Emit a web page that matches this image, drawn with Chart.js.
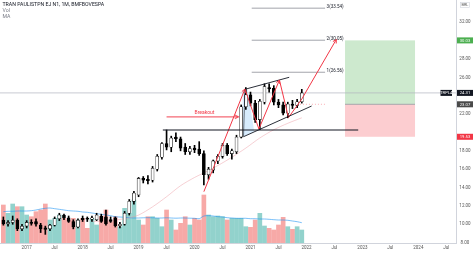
<!DOCTYPE html>
<html>
<head>
<meta charset="utf-8">
<script src="https://cdn.jsdelivr.net/npm/chart.js@4.4.1/dist/chart.umd.min.js"></script>
<style>
  html, body { margin: 0; padding: 0; background: #fff; }
  canvas { display: block; }
</style>
</head>
<body>
<canvas id="chart" width="474" height="253"></canvas>
<script>
// TRPL4 monthly candles, Aug 2016 .. Dec 2021
const months = [
  '2016-08', '2016-09', '2016-10', '2016-11', '2016-12',
  '2017-01', '2017-02', '2017-03', '2017-04', '2017-05', '2017-06', '2017-07', '2017-08', '2017-09', '2017-10', '2017-11', '2017-12',
  '2018-01', '2018-02', '2018-03', '2018-04', '2018-05', '2018-06', '2018-07', '2018-08', '2018-09', '2018-10', '2018-11', '2018-12',
  '2019-01', '2019-02', '2019-03', '2019-04', '2019-05', '2019-06', '2019-07', '2019-08', '2019-09', '2019-10', '2019-11', '2019-12',
  '2020-01', '2020-02', '2020-03', '2020-04', '2020-05', '2020-06', '2020-07', '2020-08', '2020-09', '2020-10', '2020-11', '2020-12',
  '2021-01', '2021-02', '2021-03', '2021-04', '2021-05', '2021-06', '2021-07', '2021-08', '2021-09', '2021-10', '2021-11', '2021-12'
];
const opens = [
  10.45, 10.05, 10.2, 10.45, 9.5,
  9.8, 10.2, 10.3, 9.9, 9.6, 9.5, 9.9, 10.6, 11.0, 10.7, 10.3, 9.7,
  10.65, 10.6, 10.55, 10.5, 10.9, 10.8, 10.5, 10.7, 9.85, 10.0, 11.2, 12.5,
  13.2, 15.0, 14.9, 14.8, 16.0, 17.3, 18.8, 18.4, 19.5, 19.3, 18.4, 17.9,
  18.3, 18.2, 17.7, 15.4, 15.9, 16.9, 17.4, 18.6, 17.7, 17.9, 19.5, 22.8,
  24.1, 23.2, 21.4, 23.3, 24.9, 24.8, 23.3, 23.0, 22.1, 23.1, 22.95, 23.35
];
const highs = [
  10.8, 10.4, 10.9, 10.6, 10.0,
  10.4, 10.5, 10.6, 10.1, 9.8, 10.0, 10.8, 11.2, 11.1, 10.9, 10.5, 10.6,
  10.9, 10.8, 10.9, 11.2, 11.1, 11.55, 10.8, 10.8, 10.2, 11.4, 12.7, 13.6,
  15.1, 15.2, 15.3, 16.3, 17.6, 18.9, 20.27, 19.6, 19.95, 19.5, 18.8, 18.5,
  18.6, 19.0, 18.0, 16.2, 17.0, 17.6, 18.8, 18.8, 18.2, 19.7, 23.0, 24.9,
  24.4, 23.5, 23.6, 25.3, 25.3, 25.1, 23.6, 23.3, 23.3, 23.5, 23.6, 24.7
];
const lows = [
  9.9, 9.8, 10.0, 9.3, 9.3,
  9.6, 9.9, 9.8, 9.1, 8.9, 9.3, 9.8, 10.4, 10.5, 10.2, 9.5, 9.6,
  10.3, 10.3, 10.3, 10.4, 10.2, 9.9, 10.2, 9.7, 9.6, 9.9, 11.0, 12.2,
  13.0, 14.5, 14.4, 14.6, 15.8, 17.1, 18.1, 17.9, 19.0, 18.0, 17.6, 17.6,
  17.8, 17.5, 14.3, 14.9, 15.6, 16.6, 17.2, 17.5, 17.1, 17.7, 19.4, 22.5,
  22.9, 21.1, 20.3, 23.1, 24.4, 23.0, 22.7, 21.9, 21.6, 22.6, 22.7, 23.2
];
const closes = [
  10.05, 10.2, 10.45, 9.5, 9.8,
  10.2, 10.1, 10.0, 9.5, 9.45, 9.9, 10.6, 11.0, 10.7, 10.3, 9.7, 10.45,
  10.5, 10.55, 10.7, 11.0, 10.3, 10.05, 10.3, 9.85, 10.0, 11.2, 12.5, 13.4,
  15.0, 14.8, 14.75, 16.1, 17.4, 18.8, 18.4, 19.4, 19.3, 18.3, 17.9, 18.25,
  18.1, 17.7, 15.4, 16.0, 16.9, 17.4, 18.6, 17.7, 18.0, 19.5, 22.8, 24.1,
  23.2, 21.4, 23.4, 25.0, 24.75, 23.3, 23.0, 22.1, 23.1, 22.95, 23.35, 24.31
];
// volume in millions, and its moving average
const volumes = [
  3.8, 2.97, 3.9, 3.63, 3.63,
  2.8, 2.63, 3.13, 3.3, 3.9, 2.3, 2.47, 2.8, 2.47, 2.3, 2.47, 2.3,
  2.47, 1.47, 2.47, 1.8, 2.63, 3.3, 2.13, 2.63, 1.63, 3.47, 2.97, 4.3,
  2.3, 1.8, 2.63, 2.63, 2.47, 1.63, 3.3, 2.3, 1.3, 1.97, 2.63, 1.8,
  2.47, 2.3, 4.8, 2.8, 2.63, 2.7, 2.63, 2.3, 2.47, 2.47, 2.47, 1.63,
  1.57, 2.3, 2.97, 1.7, 1.47, 1.3, 1.8, 2.57, 1.63, 1.37, 1.63, 1.3
];
const volumeMA = [
  3.13, 3.17, 3.17, 3.2, 3.2,
  3.2, 3.23, 3.3, 3.4, 3.47, 3.5, 3.43, 3.37, 3.3, 3.23, 3.2, 3.17,
  3.1, 3.07, 3.0, 2.93, 2.87, 2.8, 2.73, 2.63, 2.6, 2.57, 2.53, 2.5,
  2.5, 2.52, 2.53, 2.52, 2.5, 2.5, 2.52, 2.5, 2.48, 2.5, 2.5, 2.48,
  2.47, 2.43, 2.7, 2.73, 2.7, 2.63, 2.6, 2.53, 2.5, 2.47, 2.47, 2.47,
  2.43, 2.43, 2.4, 2.4, 2.37, 2.33, 2.3, 2.3, 2.27, 2.2, 2.13, 2.03
];
// faint price MA (month, price)
const priceMA = [
  ['2018-03', 10.3], ['2018-07', 10.4], ['2018-11', 10.7], ['2019-01', 11.0], ['2019-04', 11.9],
  ['2019-07', 13.0], ['2019-10', 14.2], ['2020-01', 15.1], ['2020-03', 15.6], ['2020-06', 16.4],
  ['2020-09', 17.3], ['2020-12', 18.3], ['2021-03', 19.4], ['2021-06', 20.3], ['2021-09', 21.0], ['2021-12', 21.6]
];

const xTickMonths = ['2017-01', '2017-07', '2018-01', '2018-07', '2019-01', '2019-07', '2020-01', '2020-07',
  '2021-01', '2021-07', '2022-01', '2022-07', '2023-01', '2023-07', '2024-01', '2024-07'];
const yTicks = [8, 10, 12, 14, 16, 18, 22, 26, 28, 32];

// drawings: x in months since Jan 2017, y in BRL
const zigzag = [[38.0, 13.55], [46.8, 24.73], [49.8, 20.38], [54.2, 25.71], [56.15, 21.63], [59.0, 23.64], [66.4, 30.13]];
const zigzagHeads = [1, 3, 6];
const breakoutLine = [[30.0, 21.7], [45.4, 21.7]];
const resistance = [[29.2, 20.27], [71.1, 20.27]];
const channelTop = [[46.8, 24.7], [56.3, 26.01]];
const channelBottom = [[46.5, 19.54], [61.1, 22.88]];
const channelSide = [[46.5, 19.54], [46.8, 24.7]];
const flagFill = [[46.3, 24.6], [47.4, 24.6], [48.8, 20.1], [46.4, 19.56]];
const fibLevels = [['1', 26.56], ['2', 30.05], ['3', 33.54]];
const fibSpan = [48.26, 64.0];
const entryDots = [[58.6, 23.07], [64.0, 23.07]];
const position = { from: 68.27, to: 83.28, target: 30.03, entry: 23.07, stop: 19.53 };
const lastPrice = 24.31;

const monthIndex = (s) => (Number(s.slice(0, 4)) - 2017) * 12 + Number(s.slice(5, 7)) - 1;
const xs = months.map(monthIndex);
const pts = (arr) => arr.map(([x, y]) => ({ x, y }));
const FONT = 'Roboto';

function line(points, color, width, dash) {
  return {
    type: 'line', data: pts(points), borderColor: color, borderWidth: width,
    borderDash: dash || [], pointRadius: 0, fill: false, tension: 0, order: 1
  };
}

function arrowHead(ctx, x1, y1, x2, y2, len) {
  const a = Math.atan2(y2 - y1, x2 - x1);
  ctx.beginPath();
  ctx.moveTo(x2 - len * Math.cos(a - 0.5), y2 - len * Math.sin(a - 0.5));
  ctx.lineTo(x2, y2);
  ctx.lineTo(x2 - len * Math.cos(a + 0.5), y2 - len * Math.sin(a + 0.5));
  ctx.stroke();
}

function tag(ctx, text, x, yc, w, bg, fg) {
  ctx.fillStyle = bg;
  ctx.fillRect(x, yc - 3, w, 6);
  ctx.fillStyle = fg;
  ctx.textAlign = 'center';
  ctx.textBaseline = 'middle';
  ctx.fillText(text, x + w / 2, yc + 0.3);
}

const overlay = {
  id: 'overlay',
  beforeDatasetsDraw(chart) {
    const { ctx, chartArea: a, scales: { x, y } } = chart;
    ctx.save();
    ctx.beginPath();
    ctx.rect(a.left, a.top, a.right - a.left, a.bottom - a.top);
    ctx.clip();
    // long position
    const x0 = x.getPixelForValue(position.from), x1 = x.getPixelForValue(position.to);
    const yT = y.getPixelForValue(position.target), yE = y.getPixelForValue(position.entry), yS = y.getPixelForValue(position.stop);
    ctx.fillStyle = 'rgba(76,175,80,0.28)';
    ctx.fillRect(x0, yT, x1 - x0, yE - yT);
    ctx.fillStyle = 'rgba(242,54,69,0.25)';
    ctx.fillRect(x0, yE, x1 - x0, yS - yE);
    ctx.strokeStyle = '#9598a1';
    ctx.lineWidth = 0.8;
    ctx.beginPath(); ctx.moveTo(x0, yE); ctx.lineTo(x1, yE); ctx.stroke();
    // flag fill
    ctx.fillStyle = 'rgba(33,150,243,0.18)';
    ctx.beginPath();
    flagFill.forEach(([mx, py], i) => {
      const px = x.getPixelForValue(mx), yy = y.getPixelForValue(py);
      if (i === 0) ctx.moveTo(px, yy); else ctx.lineTo(px, yy);
    });
    ctx.closePath();
    ctx.fill();
    // last price line
    const yL = y.getPixelForValue(lastPrice);
    ctx.strokeStyle = '#b2b5be';
    ctx.lineWidth = 0.7;
    ctx.beginPath(); ctx.moveTo(a.left, yL); ctx.lineTo(a.right, yL); ctx.stroke();
    ctx.restore();
  },
  afterDatasetsDraw(chart) {
    const { ctx, scales: { x, y } } = chart;
    const P = ([mx, py]) => [x.getPixelForValue(mx), y.getPixelForValue(py)];
    ctx.save();
    ctx.strokeStyle = '#f23645';
    ctx.lineWidth = 1;
    zigzagHeads.forEach((i) => {
      const [x1, y1] = P(zigzag[i - 1]);
      const [x2, y2] = P(zigzag[i]);
      arrowHead(ctx, x1, y1, x2, y2, 4);
    });
    ctx.strokeStyle = 'rgba(242,54,69,0.75)';
    ctx.lineWidth = 1.3;
    const [bx1, by1] = P(breakoutLine[0]);
    const [bx2, by2] = P(breakoutLine[1]);
    arrowHead(ctx, bx1, by1, bx2, by2, 4);
    ctx.font = `5px ${FONT}`;
    ctx.fillStyle = '#f23645';
    ctx.textAlign = 'center';
    ctx.textBaseline = 'bottom';
    ctx.fillText('Breakout', (bx1 + bx2) / 2 + 2, by1 - 1.5);
    // fib labels
    ctx.font = `4.5px ${FONT}`;
    ctx.fillStyle = '#131722';
    ctx.textAlign = 'left';
    ctx.textBaseline = 'middle';
    fibLevels.forEach(([n, v]) => {
      ctx.fillText(`${n}(${v.toFixed(2)})`, x.getPixelForValue(fibSpan[1]) + 1.5, y.getPixelForValue(v) - 1.5);
    });
    ctx.restore();
  },
  afterDraw(chart) {
    const { ctx, chartArea: a, scales: { x, y } } = chart;
    ctx.save();
    ctx.font = `4.5px ${FONT}`;
    ctx.fillStyle = '#555';
    ctx.textAlign = 'center';
    ctx.textBaseline = 'middle';
    // price ticks
    const cx = a.right + 9;
    yTicks.forEach((v) => ctx.fillText(v.toFixed(2), cx, y.getPixelForValue(v)));
    // time ticks
    xTickMonths.forEach((s) => {
      const m = monthIndex(s);
      ctx.fillText(m % 12 === 0 ? s.slice(0, 4) : 'Jul', x.getPixelForValue(m), a.bottom + 5);
    });
    ctx.font = `4.2px ${FONT}`;
    tag(ctx, position.target.toFixed(2), a.right + 1, y.getPixelForValue(position.target), 16, '#4caf50', '#fff');
    tag(ctx, lastPrice.toFixed(2), a.right + 1, y.getPixelForValue(lastPrice), 16, '#131722', '#fff');
    tag(ctx, 'TRPL4', a.right - 15.5, y.getPixelForValue(lastPrice), 11.5, '#131722', '#fff');
    tag(ctx, position.entry.toFixed(2), a.right + 1, y.getPixelForValue(position.entry), 16, '#4a4a4a', '#fff');
    tag(ctx, position.stop.toFixed(2), a.right + 1, y.getPixelForValue(position.stop), 16, '#f23645', '#fff');
    // currency box
    ctx.strokeStyle = '#d1d4dc';
    ctx.lineWidth = 0.6;
    ctx.strokeRect(a.right + 4.5, 2.3, 9, 5.2);
    ctx.fillStyle = '#555';
    ctx.font = `3.8px ${FONT}`;
    ctx.fillText('BRL', a.right + 9, 5);
    // legend
    ctx.textAlign = 'left';
    ctx.font = `5.2px ${FONT}`;
    ctx.fillStyle = '#131722';
    ctx.fillText('TRAN PAULISTPN EJ N1, 1M, BMFBOVESPA', 2.5, 5);
    ctx.fillStyle = '#787b86';
    ctx.fillText('Vol', 2.5, 11);
    ctx.fillText('MA', 2.5, 16.8);
    ctx.restore();
  }
};

const up = (i) => closes[i] >= opens[i];

new Chart(document.getElementById('chart'), {
  type: 'bar',
  data: {
    datasets: [
      {
        yAxisID: 'v', data: xs.map((m, i) => ({ x: m, y: volumes[i] })), barThickness: 4, grouped: false, order: 6,
        backgroundColor: (c) => (up(c.dataIndex) ? 'rgba(38,166,154,0.5)' : 'rgba(239,83,80,0.5)')
      },
      {
        type: 'line', yAxisID: 'v', data: xs.map((m, i) => ({ x: m, y: volumeMA[i] })),
        borderColor: 'rgba(33,150,243,0.75)', borderWidth: 0.8, pointRadius: 0, tension: 0.3, order: 5
      },
      {
        type: 'line', data: priceMA.map(([s, v]) => ({ x: monthIndex(s), y: v })),
        borderColor: 'rgba(235,150,160,0.45)', borderWidth: 1, pointRadius: 0, tension: 0.3, order: 4
      },
      {
        data: xs.map((m, i) => ({ x: m, y: [lows[i], highs[i]] })), barThickness: 1, grouped: false,
        backgroundColor: '#000', order: 3
      },
      {
        data: xs.map((m, i) => ({ x: m, y: [opens[i], closes[i]] })), barThickness: 3, grouped: false,
        backgroundColor: (c) => (up(c.dataIndex) ? '#fff' : '#000'), borderColor: '#000', borderWidth: 0.6,
        borderSkipped: false, minBarLength: 0.8, order: 2
      },
      line(resistance, '#131722', 1.2),
      line(channelTop, '#131722', 0.9),
      line(channelBottom, '#131722', 0.9),
      line(channelSide, '#131722', 0.6),
      line(breakoutLine, 'rgba(242,54,69,0.75)', 1.3),
      line(zigzag, '#f23645', 1),
      line(entryDots, 'rgba(242,54,69,0.5)', 0.8, [1, 2]),
      ...fibLevels.map(([, v]) => line([[fibSpan[0], v], [fibSpan[1], v]], '#8a8d96', 0.8))
    ]
  },
  options: {
    responsive: false,
    animation: false,
    devicePixelRatio: 1,
    events: [],
    layout: { padding: 0 },
    plugins: { legend: { display: false }, tooltip: { enabled: false } },
    scales: {
      x: {
        type: 'linear', min: -5.72, max: 92.07, bounds: 'data', offset: false,
        grid: { display: false, drawTicks: false },
        border: { display: true, color: '#d1d4dc' },
        ticks: { display: false },
        afterFit: (s) => { s.height = 10; }
      },
      y: {
        position: 'right', min: 7.96, max: 34.43, bounds: 'data',
        grid: { display: false, drawTicks: false },
        border: { display: true, color: '#d1d4dc' },
        ticks: { display: false },
        afterFit: (s) => { s.width = 18; }
      },
      v: { axis: 'y', display: false, min: 0, max: 24.3 }
    }
  },
  plugins: [overlay]
});
</script>
</body>
</html>
